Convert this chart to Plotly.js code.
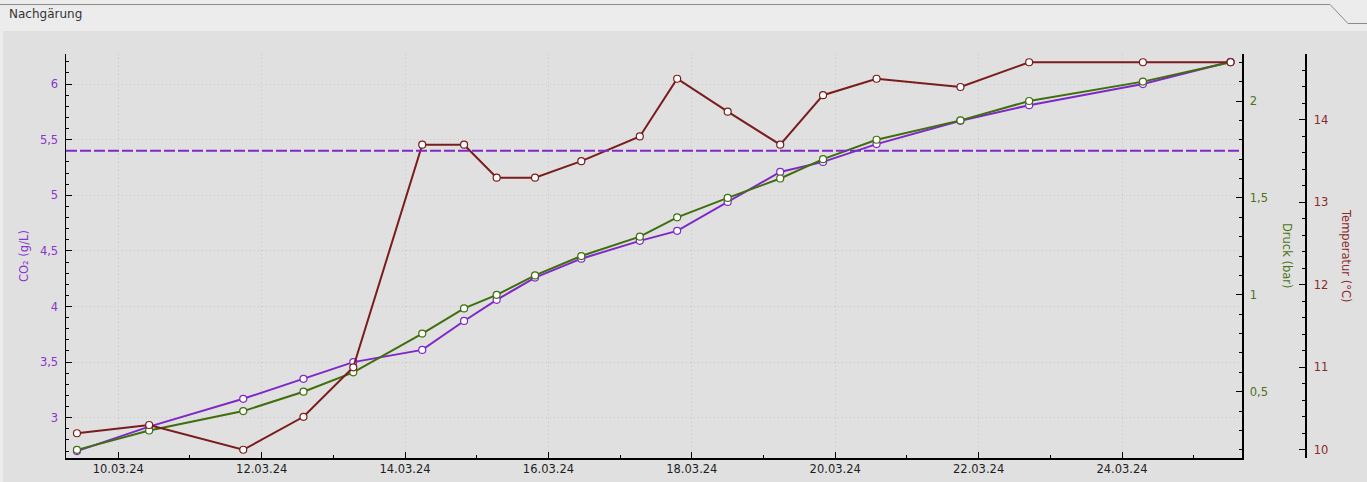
<!DOCTYPE html>
<html>
<head>
<meta charset="utf-8">
<script src="https://cdn.plot.ly/plotly-3.0.1.min.js"></script>
<style>
html,body{margin:0;padding:0;background:#ececec;overflow:hidden;}
#chart{width:1367px;height:482px;}
</style>
</head>
<body>
<div id="chart"></div>
<script>
// ---- data ----
const times = [
  '2024-03-09 10:10', '2024-03-10 10:20', '2024-03-11 17:50', '2024-03-12 14:00',
  '2024-03-13 06:40', '2024-03-14 05:45', '2024-03-14 19:45', '2024-03-15 06:40',
  '2024-03-15 19:30', '2024-03-16 11:00', '2024-03-17 06:35', '2024-03-17 19:05',
  '2024-03-18 12:00', '2024-03-19 05:35', '2024-03-19 19:55', '2024-03-20 13:50',
  '2024-03-21 17:55', '2024-03-22 16:55', '2024-03-24 07:00', '2024-03-25 12:20'
];
const co2 = [2.70, 2.92, 3.17, 3.35, 3.50, 3.61, 3.87, 4.06, 4.26, 4.43,
             4.59, 4.68, 4.94, 5.21, 5.30, 5.46, 5.67, 5.81, 6.00, 6.20];
const druck = [0.20, 0.30, 0.40, 0.50, 0.60, 0.80, 0.93, 1.00, 1.10, 1.20,
               1.30, 1.40, 1.50, 1.60, 1.70, 1.80, 1.90, 2.00, 2.10, 2.20];
const temperatur = [10.2, 10.3, 10.0, 10.4, 11.0, 13.7, 13.7, 13.3, 13.3, 13.5,
                    13.8, 14.5, 14.1, 13.7, 14.3, 14.5, 14.4, 14.7, 14.7, 14.7];
const co2Ziel = 5.4;
const headerTitle = 'Nachgärung';
const co2Title = 'CO₂ (g/L)';
const druckTitle = 'Druck (bar)';
const tempTitle = 'Temperatur (°C)';
const xRange = ['2024-03-09 06:30', '2024-03-25 16:10'];
const co2Range = [2.638, 6.27];
const druckRange = [0.158, 2.2425];
const tempRange = [9.90, 14.80];

// ---- styles ----
const purple = '#7f27c9', green = '#3f6e0c', red = '#7a1c1c';
const purpleTxt = '#8a35cf', greenTxt = '#4a7414', redTxt = '#8b2a2a';
const font = 'DejaVu Sans, sans-serif';
const W = 1367, H = 482, ML = 66, MR = 62, MT = 54, MB = 24;
const PW = W - ML - MR, PH = H - MT - MB;
const px = x => (x - ML) / PW;
const py = y => (H - MB - y) / PH;

function series(y, color, axis, name) {
  return {
    x: times, y: y, yaxis: axis, name: name, type: 'scatter', mode: 'lines+markers',
    line: {color: color, width: 2},
    marker: {size: 7, color: '#ffffff', line: {color: color, width: 1.2}},
    hoverinfo: 'x+y'
  };
}

const data = [
  series(co2, purple, 'y', 'CO2'),
  series(druck, green, 'y2', 'Druck'),
  series(temperatur, red, 'y3', 'Temperatur')
];

const gridStyle = {showgrid: true, gridcolor: '#c6c6c6', griddash: '1px,3px', gridwidth: 1};

const layout = {
  width: W, height: H,
  margin: {l: ML, r: MR, t: MT, b: MB, pad: 0},
  paper_bgcolor: '#ececec',
  plot_bgcolor: '#e0e0e0',
  separators: ',.',
  showlegend: false,
  font: {family: font, size: 11.5, color: '#222'},
  xaxis: Object.assign({
    domain: [0, (1242 - ML) / PW],
    type: 'date', range: xRange,
    tick0: '2024-03-10', dtick: 172800000, tickformat: '%d.%m.%y',
    ticks: 'inside', ticklen: 6, tickcolor: '#000', tickwidth: 1,
    minor: {dtick: 86400000, tick0: '2024-03-10', ticks: 'inside', ticklen: 3, tickcolor: '#000', showgrid: false},
    showline: true, linecolor: '#000', linewidth: 1.5,
    zeroline: false, tickfont: {size: 11.5, color: '#1e1e1e'}
  }, gridStyle),
  yaxis: Object.assign({
    range: co2Range, dtick: 0.5, tick0: 0,
    ticks: 'inside', ticklen: 6, tickcolor: '#000',
    minor: {dtick: 0.1, ticks: 'inside', ticklen: 3, tickcolor: '#000', showgrid: false},
    showline: true, linecolor: '#000', linewidth: 1.5,
    zeroline: false, tickfont: {size: 11.5, color: purpleTxt}, ticklabelstandoff: 4
  }, gridStyle),
  yaxis2: {
    overlaying: 'y', side: 'right', anchor: 'x',
    range: druckRange, dtick: 0.5, tick0: 0,
    ticks: 'inside', ticklen: 6, tickcolor: '#000',
    minor: {dtick: 0.1, ticks: 'inside', ticklen: 3, tickcolor: '#000', showgrid: false},
    showline: true, linecolor: '#000', linewidth: 1.5,
    showgrid: false, zeroline: false, tickfont: {size: 11.5, color: greenTxt}, ticklabelstandoff: 4
  },
  yaxis3: {
    overlaying: 'y', side: 'right', anchor: 'free', position: 1,
    range: tempRange, dtick: 1, tick0: 0,
    ticks: 'inside', ticklen: 6, tickcolor: '#000',
    minor: {dtick: 0.2, ticks: 'inside', ticklen: 3, tickcolor: '#000', showgrid: false},
    showline: true, linecolor: '#000', linewidth: 1.5,
    showgrid: false, zeroline: false, tickfont: {size: 11.5, color: redTxt}, ticklabelstandoff: 5
  },
  shapes: [
    {type: 'rect', xref: 'paper', yref: 'paper', layer: 'below',
     x0: px(3), x1: px(W + 2), y0: py(H + 2), y1: py(31),
     fillcolor: '#e0e0e0', line: {width: 0}},
    {type: 'path', xref: 'paper', yref: 'paper', layer: 'above',
     path: 'M ' + px(0) + ' ' + py(4.5) + ' L ' + px(1330) + ' ' + py(4.5) +
           ' L ' + px(1348) + ' ' + py(23.5) + ' L ' + px(W) + ' ' + py(23.5),
     line: {color: '#8a8a8a', width: 1}},
    {type: 'line', xref: 'x domain', yref: 'y', x0: 0, x1: 1, y0: co2Ziel, y1: co2Ziel,
     line: {color: purple, width: 2, dash: '11px,3px'}}
  ],
  annotations: [
    {text: headerTitle, xref: 'paper', yref: 'paper', x: px(7), y: py(14),
     xanchor: 'left', yanchor: 'middle', showarrow: false,
     font: {family: font, size: 12, color: '#333'}},
    {text: co2Title, xref: 'paper', yref: 'paper', x: px(24), y: py(256),
     xanchor: 'center', yanchor: 'middle', showarrow: false, textangle: -90,
     font: {family: font, size: 11.5, color: purpleTxt}},
    {text: druckTitle, xref: 'paper', yref: 'paper', x: px(1287), y: py(256),
     xanchor: 'center', yanchor: 'middle', showarrow: false, textangle: 90,
     font: {family: font, size: 11.5, color: greenTxt}},
    {text: tempTitle, xref: 'paper', yref: 'paper', x: px(1346), y: py(256),
     xanchor: 'center', yanchor: 'middle', showarrow: false, textangle: 90,
     font: {family: font, size: 11.5, color: redTxt}}
  ]
};

Plotly.newPlot('chart', data, layout, {displayModeBar: false, staticPlot: true});
</script>
</body>
</html>
